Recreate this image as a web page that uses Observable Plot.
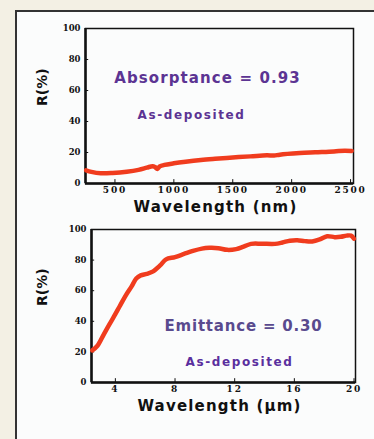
<!DOCTYPE html>
<html><head><meta charset="utf-8">
<script src="https://cdn.jsdelivr.net/npm/d3@7"></script>
<script src="https://cdn.jsdelivr.net/npm/@observablehq/plot@0.6"></script>
<style>
html,body{margin:0;padding:0;}
body{width:374px;height:439px;background:#f3f0e4;position:relative;overflow:hidden;font-family:"DejaVu Sans",sans-serif;}
#panel{position:absolute;left:15px;top:10px;width:380px;height:450px;background:#fbfcfc;border-left:2px solid #333;border-top:2px solid #333;}
#top,#bot{position:absolute;left:0;}
#top{top:0;} #bot{top:215px;}
svg{background:transparent !important;overflow:visible;}
g[aria-label="x-axis tick label"] text{letter-spacing:1.8px;}
</style></head>
<body>
<div id="panel"></div>
<div id="top"></div>
<div id="bot"></div>
<script>
// Top chart: reflectance vs wavelength (nm)
const nmWave = [255, 300, 380, 480, 600, 700, 770, 820, 840, 860, 880, 920, 1000, 1100, 1230, 1350, 1500, 1650, 1790, 1850, 1900, 2070, 2200, 2360, 2450, 2510];
const nmR    = [8.5, 7.5, 6.6, 6.8, 7.6, 8.8, 10.2, 11.2, 10.6, 9.4, 11.0, 12.0, 13.0, 14.0, 15.1, 15.9, 16.8, 17.5, 18.2, 18.0, 18.6, 19.6, 20.1, 20.7, 21.2, 21.0];
const nmTicksX = [500, 1000, 1500, 2000, 2500];
const nmTickLabels = ["500", "1000", "1500", "2000", "2500"];
const rTicks = [0, 20, 40, 60, 80, 100];
const topNotes = ["Absorptance = 0.93", "As-deposited"];

// Bottom chart: reflectance vs wavelength (µm)
const umWave = [2.45, 2.8, 3.2, 3.6, 3.9, 4.3, 4.7, 5.1, 5.4, 5.7, 6.1, 6.5, 7.0, 7.4, 8.0, 8.6, 9.2, 9.8, 10.3, 10.9, 11.5, 12.1, 12.6, 13.1, 13.8, 14.7, 15.2, 15.7, 16.2, 16.7, 17.2, 17.7, 18.2, 18.7, 19.1, 19.5, 19.8, 20.0];
const umR    = [21, 24, 31, 38, 43, 50, 57, 63, 68, 70, 71, 72.5, 76.5, 80.5, 82, 84, 86, 87.5, 88, 87.8, 86.7, 87.2, 88.8, 90.6, 90.7, 90.6, 91.5, 92.7, 93, 92.4, 92.2, 93.5, 95.6, 95, 95.2, 96, 96, 94];
const umTicksX = [4, 8, 12, 16, 20];
const botNotes = ["Emittance = 0.30", "As-deposited"];

const red = "#f03c1e";
const serif = "'DejaVu Serif', 'Liberation Serif', serif";
const sans = "'DejaVu Sans', sans-serif";

function chart({waves, rs, xTicks, xLabels, xDomain, width, height, margins, xTitle, notes, noteOpts, noteColors, spacing}) {
  const data = waves.map((w, i) => ({w, r: rs[i]}));
  const svg = Plot.plot({
    width, height,
    marginLeft: margins[0], marginRight: margins[1], marginTop: margins[2], marginBottom: margins[3],
    style: {background: "transparent", overflow: "visible"},
    x: {domain: xDomain},
    y: {domain: [0, 100]},
    marks: [
      Plot.frame({stroke: "#111", strokeWidth: 1.5}),
      Plot.ruleX([xDomain[0]], {stroke: "#111", strokeWidth: 2.5}),
      Plot.ruleY([0], {stroke: "#111", strokeWidth: 2.5}),
      Plot.ruleX(xTicks, {y1: 0, y2: 2.5, stroke: "#111", strokeWidth: 1}),
      Plot.ruleY(rTicks, {x1: xDomain[0], x2: xDomain[0] + (xDomain[1]-xDomain[0]) * 0.012, stroke: "#111", strokeWidth: 1}),
      Plot.axisX({ticks: xTicks, tickFormat: (d, i) => xLabels ? xLabels[i] : String(d), tickSize: 0, tickPadding: 3,
        fontFamily: serif, fontWeight: "bold", fontSize: 9, label: null, fill: "#111"}),
      Plot.axisY({ticks: rTicks, tickSize: 0, tickPadding: 5, fontFamily: serif, fontWeight: "bold", fontSize: 8.5, label: null, fill: "#111"}),
      Plot.line(data, {x: "w", y: "r", stroke: red, strokeWidth: 4.5, curve: "catmull-rom", strokeLinejoin: "round", strokeLinecap: "round"}),
      Plot.text([xTitle], {frameAnchor: "bottom", dx: -4, dy: 28, text: d => d, fontFamily: sans, fontWeight: "bold", fontSize: 15, fill: "#111"}),
      Plot.text(["R(%)"], {frameAnchor: "left", dx: -(margins[0] - 42), rotate: -90, text: d => d, fontFamily: sans, fontWeight: "bold", fontSize: 14, fill: "#111"}),
      Plot.text([notes[0]], {frameAnchor: "top-left", dx: noteOpts[0][0], dy: noteOpts[0][1], text: d => d, textAnchor: "middle", fontFamily: sans, fontWeight: "bold", fontSize: 15, fill: noteColors[0]}),
      Plot.text([notes[1]], {frameAnchor: "top-left", dx: noteOpts[1][0], dy: noteOpts[1][1], text: d => d, textAnchor: "middle", fontFamily: sans, fontWeight: "bold", fontSize: 12, fill: noteColors[1]})
    ]
  });
  // widen the lettering like the reference image
  d3.select(svg).selectAll("text").each(function() {
    const t = this.textContent;
    if (t === xTitle) this.style.letterSpacing = spacing[0] + "px";
    else if (t === notes[0]) this.style.letterSpacing = spacing[1] + "px";
    else if (t === notes[1]) this.style.letterSpacing = spacing[2] + "px";
  });
  return svg;
}

document.getElementById("top").append(chart({
  waves: nmWave, rs: nmR, xTicks: nmTicksX, xLabels: nmTickLabels, xDomain: [250, 2525],
  width: 374, height: 215, margins: [85, 21, 28, 32],
  xTitle: "Wavelength (nm)", notes: topNotes, noteOpts: [[122, 44], [106, 82]], noteColors: ["#5c3493", "#5c3493"],
  spacing: [1.2, 1.1, 1.6]
}));

document.getElementById("bot").append(chart({
  waves: umWave, rs: umR, xTicks: umTicksX, xLabels: null, xDomain: [2.4, 20.1],
  width: 374, height: 224, margins: [91, 19, 14, 57],
  xTitle: "Wavelength (μm)", notes: botNotes, noteOpts: [[152, 91], [148, 128]], noteColors: ["#594a8e", "#5a2f9e"],
  spacing: [1.2, 0.8, 1.6]
}));
</script>
</body></html>
